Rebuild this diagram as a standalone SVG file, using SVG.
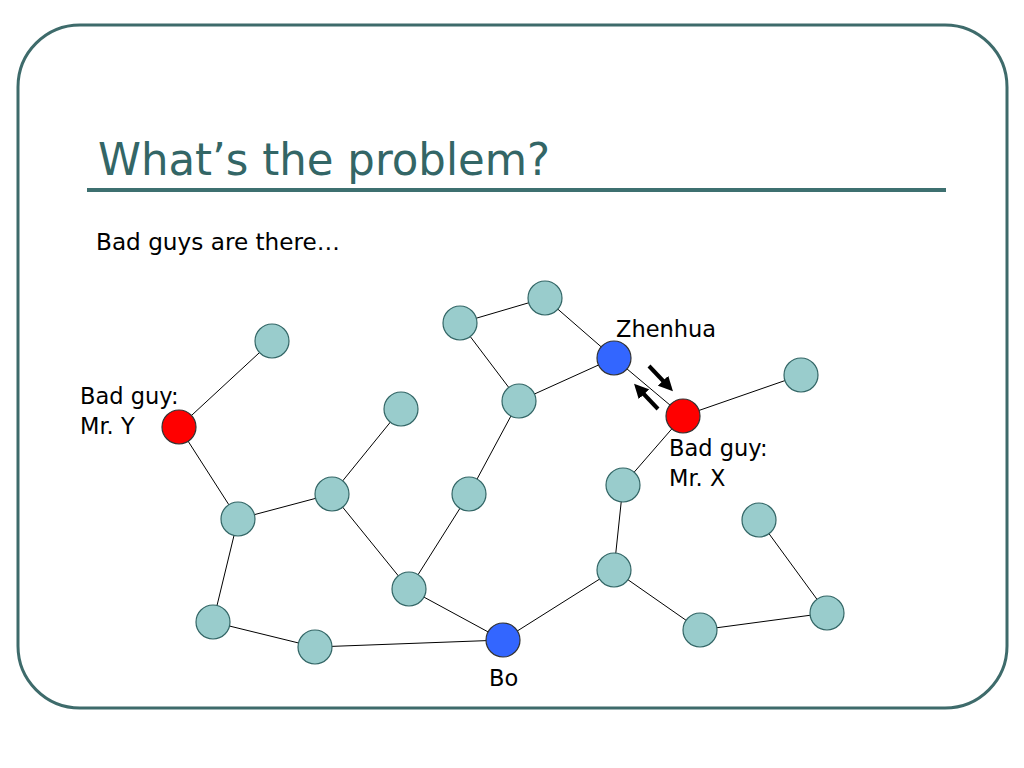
<svg xmlns="http://www.w3.org/2000/svg" width="1024" height="768" viewBox="0 0 1024 768">
<defs>
<style>
.n{fill:#99CCCC;stroke:#336666;stroke-width:1.2}
.r{fill:#FF0000;stroke:#333333;stroke-width:1.2}
.b{fill:#3366FF;stroke:#333333;stroke-width:1.2}
.e{stroke:#000;stroke-width:1;fill:none}
.t{font-family:"DejaVu Sans",sans-serif;fill:#000;font-size:22.5px}
.a{stroke:#000;stroke-width:4;fill:none}
</style>
<marker id="ah" viewBox="0 0 10 10" refX="5" refY="5" markerWidth="3.6" markerHeight="3.6" orient="auto">
<path d="M0,0 L10,5 L0,10 z" fill="#000"/>
</marker>
</defs>
<rect width="1024" height="768" fill="#fff"/>
<rect x="18" y="25" width="989" height="683" rx="62" ry="62" fill="none" stroke="#3E6B6B" stroke-width="3"/>
<line x1="87" y1="190" x2="946" y2="190" stroke="#3E7070" stroke-width="4"/>
<text x="98" y="175" font-family="DejaVu Sans,sans-serif" font-size="45" fill="#336666" textLength="452" lengthAdjust="spacingAndGlyphs">What’s the problem?</text>
<text class="t" x="96" y="250" textLength="244" lengthAdjust="spacingAndGlyphs">Bad guys are there…</text>
<g id="connectors">
<line class="e" x1="272" y1="341" x2="179" y2="427"/>
<line class="e" x1="179" y1="427" x2="238" y2="519"/>
<line class="e" x1="238" y1="519" x2="332" y2="494"/>
<line class="e" x1="332" y1="494" x2="401" y2="409"/>
<line class="e" x1="332" y1="494" x2="409" y2="589"/>
<line class="e" x1="238" y1="519" x2="213" y2="622"/>
<line class="e" x1="213" y1="622" x2="315" y2="647"/>
<line class="e" x1="315" y1="647" x2="503" y2="640"/>
<line class="e" x1="409" y1="589" x2="503" y2="640"/>
<line class="e" x1="409" y1="589" x2="469" y2="494"/>
<line class="e" x1="469" y1="494" x2="519" y2="401"/>
<line class="e" x1="519" y1="401" x2="460" y2="323"/>
<line class="e" x1="460" y1="323" x2="545" y2="298"/>
<line class="e" x1="545" y1="298" x2="614" y2="358"/>
<line class="e" x1="519" y1="401" x2="614" y2="358"/>
<line class="e" x1="614" y1="358" x2="683" y2="416"/>
<line class="e" x1="683" y1="416" x2="801" y2="375"/>
<line class="e" x1="683" y1="416" x2="623" y2="485"/>
<line class="e" x1="623" y1="485" x2="614" y2="570"/>
<line class="e" x1="614" y1="570" x2="503" y2="640"/>
<line class="e" x1="614" y1="570" x2="700" y2="630"/>
<line class="e" x1="700" y1="630" x2="827" y2="613"/>
<line class="e" x1="827" y1="613" x2="759" y2="520"/>
<line class="a" x1="649" y1="366" x2="668" y2="386" marker-end="url(#ah)"/>
<line class="a" x1="658" y1="409" x2="639" y2="389" marker-end="url(#ah)"/>
</g>
<g id="nA"><circle class="n" cx="272" cy="341" r="17"/></g>
<g id="mrY"><circle class="r" cx="179" cy="427" r="17"/><text class="t" x="80" y="404">Bad guy:</text><text class="t" x="80" y="434">Mr. Y</text></g>
<g id="nB"><circle class="n" cx="238" cy="519" r="17"/></g>
<g id="nC"><circle class="n" cx="332" cy="494" r="17"/></g>
<g id="nD"><circle class="n" cx="401" cy="409" r="17"/></g>
<g id="nE"><circle class="n" cx="409" cy="589" r="17"/></g>
<g id="nF"><circle class="n" cx="213" cy="622" r="17"/></g>
<g id="nG"><circle class="n" cx="315" cy="647" r="17"/></g>
<g id="bo"><circle class="b" cx="503" cy="640" r="17"/><text class="t" x="489" y="686">Bo</text></g>
<g id="nH"><circle class="n" cx="469" cy="494" r="17"/></g>
<g id="nI"><circle class="n" cx="519" cy="401" r="17"/></g>
<g id="nJ"><circle class="n" cx="460" cy="323" r="17"/></g>
<g id="nK"><circle class="n" cx="545" cy="298" r="17"/></g>
<g id="zhenhua"><circle class="b" cx="614" cy="358" r="17"/><text class="t" x="616" y="337">Zhenhua</text></g>
<g id="mrX"><circle class="r" cx="683" cy="416" r="17"/><text class="t" x="669" y="456">Bad guy:</text><text class="t" x="669" y="486">Mr. X</text></g>
<g id="nL"><circle class="n" cx="801" cy="375" r="17"/></g>
<g id="nM"><circle class="n" cx="623" cy="485" r="17"/></g>
<g id="nN"><circle class="n" cx="614" cy="570" r="17"/></g>
<g id="nO"><circle class="n" cx="700" cy="630" r="17"/></g>
<g id="nP"><circle class="n" cx="827" cy="613" r="17"/></g>
<g id="nQ"><circle class="n" cx="759" cy="520" r="17"/></g>
</svg>
